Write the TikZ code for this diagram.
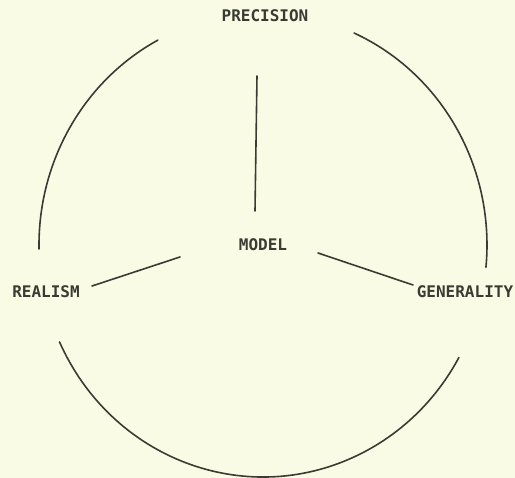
\documentclass[tikz,border=0pt]{standalone}
\usepackage{fontspec}
\newfontfamily\termfont{DejaVu Sans Mono}
\definecolor{paper}{RGB}{250,251,229}
\definecolor{ink}{RGB}{58,60,52}

\begin{document}
\begin{tikzpicture}[x=1pt, y=1pt,
    term/.style={font=\termfont\bfseries\fontsize{16}{16}\selectfont, text=ink, inner sep=1pt},
    edge/.style={ink, line width=1.6pt, line cap=round},
    rim/.style={edge, x radius=224, y radius=232},
  ]
  \useasboundingbox (0,0) rectangle (515,478);
  \fill[paper] (0,0) rectangle (515,478);
  \coordinate (c) at (263,233);

  \node[term] (model) at (263,233) {MODEL};
  \node[term] (precision) at (265,462) {PRECISION};
  \node[term] (realism) at (46,186) {REALISM};
  \node[term] (generality) at (465,186) {GENERALITY};

  % spoke ends
  \coordinate (mp) at (255,267);
  \coordinate (pp) at (257,402);
  \coordinate (mr) at (180,221);
  \coordinate (rr) at (92,192);
  \coordinate (mg) at (318,225);
  \coordinate (gg) at (413,193);
  \draw[edge] (mp) -- (pp);
  \draw[edge] (mr) -- (rr);
  \draw[edge] (mg) -- (gg);

  % outer ring, broken at the three terms
  \draw[rim] ([shift={(118:224 and 232)}]c) arc[start angle=118, end angle=181];
  \draw[rim] ([shift={(66:224 and 232)}]c) arc[start angle=66, end angle=-5.5];
  \draw[rim] ([shift={(204.7:224 and 232)}]c) arc[start angle=204.7, end angle=331];
\end{tikzpicture}
\end{document}
